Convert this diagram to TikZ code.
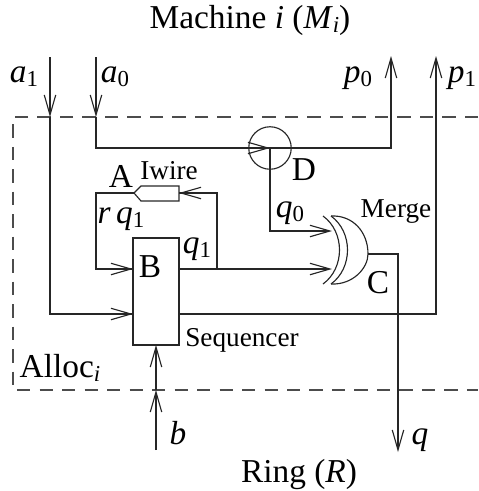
\documentclass[tikz,border=0pt]{standalone}
\usepackage{fontspec}
\setmainfont{Liberation Serif}
\usetikzlibrary{arrows.meta}
\newcommand{\subs}[1]{\raisebox{-0.14em}{\fontsize{13}{14}\selectfont #1}}
\newcommand{\var}[2]{\textit{#1}\subs{#2}}
\tikzset{
  wire/.style={line width=0.65pt, black!85},
  arr/.style={wire, -{Straight Barb[length=4mm, width=2.3mm, line width=0.65pt]}},
  dashline/.style={line width=0.6pt, black!70, dash pattern=on 7.6pt off 5.2pt},
  big/.style={font=\fontsize{19}{22}\selectfont, inner sep=0pt, anchor=base},
  small/.style={font=\fontsize{15.5}{18}\selectfont, inner sep=0pt, anchor=base},
  seqbox/.style={draw, wire, minimum width=0.92cm, minimum height=2.14cm, inner sep=0pt},
  crossing/.style={draw, wire, circle, minimum size=0.85cm, inner sep=0pt}
}
\begin{document}
\begin{tikzpicture}[x=0.02cm,y=-0.02cm]
  \useasboundingbox (0,0) rectangle (478,491);
  % region
  \draw[dashline] (478,117) -- (13,117) -- (13,390) -- (478,390);
  % titles
  \node[big] (machine) at (250,28) {Machine \textit{i} (\var{M}{\textit{i}})};
  \node[big] (ring) at (299,482) {Ring (\textit{R})};
  \node[big] (alloc) at (60,377) {Alloc\subs{\textit{i}}};
  % blocks
  \node[seqbox] (B) at (156,291.5) {};
  \node[crossing] (D) at (270,148) {};
  \coordinate (top1) at (50,57);
  \coordinate (mid1) at (50,117);
  \coordinate (top0) at (96,57);
  \coordinate (mid0) at (96,117);
  \coordinate (p0) at (391,56);
  \coordinate (p1) at (436,56);
  \coordinate (low) at (133,314);
  \coordinate (upp) at (133,269);
  \coordinate (bot) at (156,450);
  \coordinate (midb) at (156,390);
  \coordinate (bin) at (156,345);
  \coordinate (q) at (398,452);
  \coordinate (tap) at (217,269);
  \coordinate (in0) at (332,231);
  \coordinate (in1) at (332,269);
  \coordinate (nose) at (368,254);
  \coordinate (Atip) at (134,193);
  \coordinate (Aend) at (179,193);
  % Iwire
  \draw[wire] (Atip) -- (141,186) -- (179,186) -- (179,201) -- (141,201) -- cycle;
  % Merge
  \draw[wire] (323,216) .. controls (345,232) and (345,268) .. (323,284);
  \draw[wire] (331,216) .. controls (353,232) and (353,268) .. (331,284);
  \draw[wire] (331,216) .. controls (353,215) and (368,232) .. (nose)
    .. controls (368,268) and (353,285) .. (331,284);
  % connectors
  \draw[arr] (top1) -- (mid1);
  \draw[wire] (mid1) |- (low);
  \draw[arr] (96,314) -- (low);
  \draw[arr] (top0) -- (mid0);
  \draw[wire] (mid0) |- (D.center);
  \draw[arr] (240,148) -- (D.center);
  \draw[arr] (D.center) -| (p0);
  \draw[wire] (D.center) |- (300,231);
  \draw[arr] (300,231) -- (in0);
  \draw[wire] (Atip) -| (96,269) -- (upp);
  \draw[arr] (100,269) -- (upp);
  \draw[wire] (B.east |- tap) -- (tap);
  \draw[wire] (tap) |- (Aend);
  \draw[arr] (205,193) -- (Aend);
  \draw[arr] (tap) -- (in1);
  \draw[arr] (B.east |- low) -| (p1);
  \draw[arr] (bot) -- (midb);
  \draw[arr] (midb) -- (bin);
  \draw[arr] (nose) -| (q);
  % labels
  \node[big] (a1) at (24,82) {\var{a}{1}};
  \node[big] (a0) at (115,82) {\var{a}{0}};
  \node[big] (p0t) at (358,82) {\var{p}{0}};
  \node[big] (p1t) at (462,82) {\var{p}{1}};
  \node[big] (At) at (121,187) {A};
  \node[small] (iw) at (169,179) {Iwire};
  \node[big] (rq) at (121,223) {\textit{r}\,\var{q}{1}};
  \node[big] (Bt) at (150,277) {B};
  \node[big] (q1t) at (197,253) {\var{q}{1}};
  \node[big] (Dt) at (304,180) {D};
  \node[big] (q0t) at (290,217) {\var{q}{0}};
  \node[small] (mt) at (396,217) {Merge};
  \node[big] (Ct) at (378,293) {C};
  \node[small] (st) at (242,346) {Sequencer};
  \node[big] (bt) at (178,444) {\textit{b}};
  \node[big] (qt) at (420,444) {\textit{q}};
\end{tikzpicture}
\end{document}
